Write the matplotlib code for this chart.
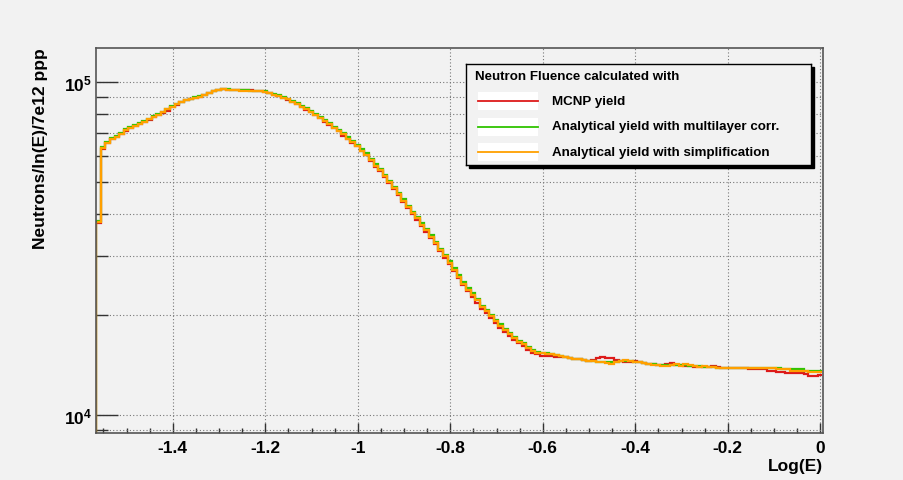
import numpy as np
import matplotlib
matplotlib.use("Agg")
import matplotlib.pyplot as plt
from matplotlib.ticker import FixedLocator, MultipleLocator, NullFormatter
from matplotlib.patches import Rectangle
from matplotlib.lines import Line2D

plt.rcParams['font.family'] = ['Liberation Sans', 'DejaVu Sans']
plt.rcParams['font.weight'] = 'bold'
plt.rcParams['mathtext.fontset'] = 'custom'
plt.rcParams['mathtext.bf'] = 'Liberation Sans:bold'
plt.rcParams['mathtext.rm'] = 'Liberation Sans:bold'

# binning in Log(E)
log_e_low = -1.566
bin_width = 0.01
n_bins = 157

# fluence per bin, in units of 1e4
mcnp_1e4 = [3.78, 6.28, 6.55, 6.74, 6.84, 6.96, 7.13, 7.25, 7.35, 7.45,
            7.58, 7.70, 7.82, 7.95, 8.05, 8.20, 8.40, 8.55, 8.68, 8.80,
            8.86, 8.95, 9.03, 9.12, 9.24, 9.38, 9.46, 9.50, 9.48, 9.46,
            9.42, 9.48, 9.48, 9.48, 9.40, 9.36, 9.32, 9.24, 9.14, 9.05,
            8.96, 8.84, 8.70, 8.57, 8.38, 8.24, 8.10, 7.94, 7.77, 7.59,
            7.42, 7.25, 7.11, 6.90, 6.72, 6.56, 6.40, 6.19, 6.02, 5.78,
            5.55, 5.40, 5.18, 4.96, 4.76, 4.56, 4.37, 4.18, 4.01, 3.86,
            3.69, 3.55, 3.39, 3.26, 3.10, 2.96, 2.83, 2.70, 2.57, 2.45,
            2.35, 2.26, 2.17, 2.08, 2.02, 1.95, 1.89, 1.83, 1.78, 1.73,
            1.68, 1.64, 1.61, 1.57, 1.54, 1.52, 1.50, 1.50, 1.50, 1.49,
            1.49, 1.49, 1.48, 1.47, 1.47, 1.46, 1.45, 1.46, 1.48, 1.49,
            1.48, 1.48, 1.46, 1.45, 1.44, 1.44, 1.45, 1.44, 1.43, 1.42,
            1.42, 1.41, 1.41, 1.42, 1.43, 1.41, 1.41, 1.40, 1.40, 1.39,
            1.39, 1.39, 1.39, 1.40, 1.39, 1.38, 1.38, 1.38, 1.38, 1.38,
            1.38, 1.37, 1.37, 1.37, 1.37, 1.36, 1.36, 1.35, 1.35, 1.34,
            1.34, 1.34, 1.34, 1.33, 1.31, 1.31, 1.32]

multilayer_1e4 = [3.82, 6.38, 6.62, 6.80, 6.90, 7.02, 7.20, 7.30, 7.40, 7.50,
                  7.64, 7.76, 7.90, 8.02, 8.14, 8.30, 8.45, 8.60, 8.73, 8.83,
                  8.89, 8.98, 9.06, 9.15, 9.27, 9.40, 9.48, 9.52, 9.50, 9.48,
                  9.45, 9.43, 9.42, 9.40, 9.40, 9.39, 9.36, 9.28, 9.19, 9.11,
                  9.01, 8.90, 8.76, 8.63, 8.47, 8.33, 8.19, 8.02, 7.85, 7.67,
                  7.50, 7.33, 7.19, 7.00, 6.81, 6.65, 6.48, 6.27, 6.10, 5.87,
                  5.65, 5.48, 5.27, 5.05, 4.84, 4.64, 4.44, 4.24, 4.08, 3.94,
                  3.77, 3.62, 3.46, 3.31, 3.16, 3.03, 2.89, 2.76, 2.63, 2.51,
                  2.41, 2.32, 2.23, 2.13, 2.07, 2.00, 1.93, 1.87, 1.81, 1.76,
                  1.71, 1.67, 1.64, 1.60, 1.57, 1.55, 1.54, 1.53, 1.52, 1.51,
                  1.50, 1.49, 1.48, 1.47, 1.47, 1.46, 1.45, 1.45, 1.44, 1.44,
                  1.44, 1.44, 1.44, 1.45, 1.45, 1.45, 1.44, 1.44, 1.43, 1.42,
                  1.42, 1.41, 1.41, 1.41, 1.41, 1.41, 1.41, 1.41, 1.40, 1.40,
                  1.40, 1.39, 1.39, 1.39, 1.38, 1.38, 1.38, 1.38, 1.38, 1.38,
                  1.38, 1.38, 1.38, 1.38, 1.38, 1.38, 1.38, 1.38, 1.37, 1.37,
                  1.37, 1.37, 1.37, 1.36, 1.36, 1.36, 1.36]

simplified_1e4 = [3.80, 6.33, 6.57, 6.75, 6.85, 6.97, 7.15, 7.26, 7.36, 7.46,
                  7.60, 7.72, 7.86, 7.98, 8.10, 8.27, 8.42, 8.56, 8.70, 8.80,
                  8.86, 8.95, 9.03, 9.12, 9.24, 9.38, 9.46, 9.50, 9.48, 9.46,
                  9.42, 9.40, 9.40, 9.38, 9.38, 9.37, 9.33, 9.25, 9.15, 9.07,
                  8.97, 8.86, 8.72, 8.59, 8.42, 8.28, 8.14, 7.97, 7.80, 7.62,
                  7.45, 7.28, 7.14, 6.95, 6.76, 6.60, 6.43, 6.22, 6.05, 5.82,
                  5.60, 5.43, 5.22, 5.00, 4.80, 4.60, 4.40, 4.20, 4.04, 3.90,
                  3.73, 3.58, 3.42, 3.28, 3.13, 3.00, 2.86, 2.73, 2.60, 2.48,
                  2.38, 2.29, 2.21, 2.11, 2.05, 1.98, 1.91, 1.85, 1.80, 1.75,
                  1.70, 1.66, 1.63, 1.59, 1.56, 1.54, 1.53, 1.52, 1.52, 1.51,
                  1.50, 1.49, 1.48, 1.47, 1.47, 1.46, 1.45, 1.45, 1.44, 1.44,
                  1.43, 1.42, 1.44, 1.45, 1.46, 1.45, 1.44, 1.44, 1.43, 1.42,
                  1.41, 1.41, 1.40, 1.40, 1.41, 1.42, 1.40, 1.42, 1.41, 1.40,
                  1.39, 1.40, 1.39, 1.39, 1.38, 1.38, 1.38, 1.38, 1.38, 1.38,
                  1.38, 1.38, 1.38, 1.38, 1.38, 1.38, 1.38, 1.37, 1.37, 1.37,
                  1.36, 1.36, 1.36, 1.36, 1.35, 1.35, 1.35]

labels = ["MCNP yield",
          "Analytical yield with multilayer corr.",
          "Analytical yield with simplification"]
colors = ["#dd1a1a", "#2fc400", "#ffa000"]

x_ticks = [-1.4, -1.2, -1.0, -0.8, -0.6, -0.4, -0.2, 0.0]
x_tick_labels = ["-1.4", "-1.2", "-1", "-0.8", "-0.6", "-0.4", "-0.2", "0"]
y_ticks = [1e4, 1e5]
y_tick_labels = [r"$\mathbf{10^{4}}$", r"$\mathbf{10^{5}}$"]

bg = "#f2f2f2"
W, H = 904, 481
fig = plt.figure(figsize=(W / 100, H / 100), dpi=100, facecolor=bg)
ax = fig.add_axes([96 / W, 1 - 434 / H, (823 - 96) / W, (434 - 48.5) / H], facecolor=bg)

edges = log_e_low + bin_width * np.arange(n_bins + 1)
ymin, ymax = 8.83e3, 1.268e5
for vals, c in zip([mcnp_1e4, multilayer_1e4, simplified_1e4], colors):
    v = np.array(vals) * 1e4
    ax.stairs(v, edges, color=c, lw=1.6, baseline=None)
    ax.vlines(edges[0], ymin, v[0], color=c, lw=1.6)

ax.set_yscale("log")
ax.set_xlim(-1.566, 0.0058)
ax.set_ylim(ymin, ymax)

ax.set_xticks(x_ticks, labels=x_tick_labels)
ax.xaxis.set_minor_locator(MultipleLocator(0.05))
ax.set_yticks(y_ticks, labels=y_tick_labels)
ax.yaxis.set_minor_locator(FixedLocator([k * 10**e for e in (3, 4) for k in range(2, 10)]))
ax.yaxis.set_minor_formatter(NullFormatter())

ax.tick_params(axis="both", which="both", direction="in", colors="#333333",
               top=False, right=False, labelsize=12.5, width=1)
ax.tick_params(axis="x", which="major", length=7.5, pad=5)
ax.tick_params(axis="x", which="minor", length=3.6)
ax.tick_params(axis="y", which="major", length=16, pad=3)
ax.tick_params(axis="y", which="minor", length=8.5)
for lab in ax.get_xticklabels() + ax.get_yticklabels():
    lab.set_color("black")
    lab.set_fontweight("bold")

ax.grid(True, which="major", axis="both", linestyle=(0, (1, 2)), color="#777777", lw=0.8)
ax.grid(True, which="minor", axis="y", linestyle=(0, (1, 2)), color="#777777", lw=0.8)
ax.set_axisbelow(True)

for side in ["left", "bottom", "top", "right"]:
    ax.spines[side].set_color("#555555")
    ax.spines[side].set_linewidth(1.2)

ax.set_xlabel("Log(E)", loc="right", fontsize=12.5, fontweight="bold", labelpad=2)
ax.set_ylabel("Neutrons/ln(E)/7e12 ppp", loc="top", fontsize=12.5, fontweight="bold", labelpad=11)

# legend box drawn by hand, ROOT TLegend style with shadow
lx0, ly0, lx1, ly1 = 466, 65, 811, 166
shadow = Rectangle(((lx0 + 3) / W, 1 - (ly1 + 3) / H), (lx1 - lx0) / W, (ly1 - ly0) / H,
                   transform=fig.transFigure, facecolor="black", edgecolor="black", zorder=5)
fig.patches.append(shadow)
leg = fig.add_axes([lx0 / W, 1 - ly1 / H, (lx1 - lx0) / W, (ly1 - ly0) / H], facecolor=bg, zorder=6)
leg.set_xlim(lx0, lx1)
leg.set_ylim(ly1, ly0)
leg.set_xticks([])
leg.set_yticks([])
for s in leg.spines.values():
    s.set_color("black")
    s.set_linewidth(1.0)
leg.text(475, 77, "Neutron Fluence calculated with", fontsize=9.6, fontweight="bold", va="center", ha="left")
for i, (lab, c) in enumerate(zip(labels, colors)):
    yc = 102 + i * 25.5
    leg.add_patch(Rectangle((478, yc - 9), 60, 18, facecolor="white", edgecolor="none"))
    leg.add_line(Line2D([478, 538], [yc, yc], color=c, lw=1.3))
    leg.text(552, yc, lab, fontsize=9.6, fontweight="bold", va="center", ha="left")

fig.savefig("out.png", dpi=100, facecolor=bg)
